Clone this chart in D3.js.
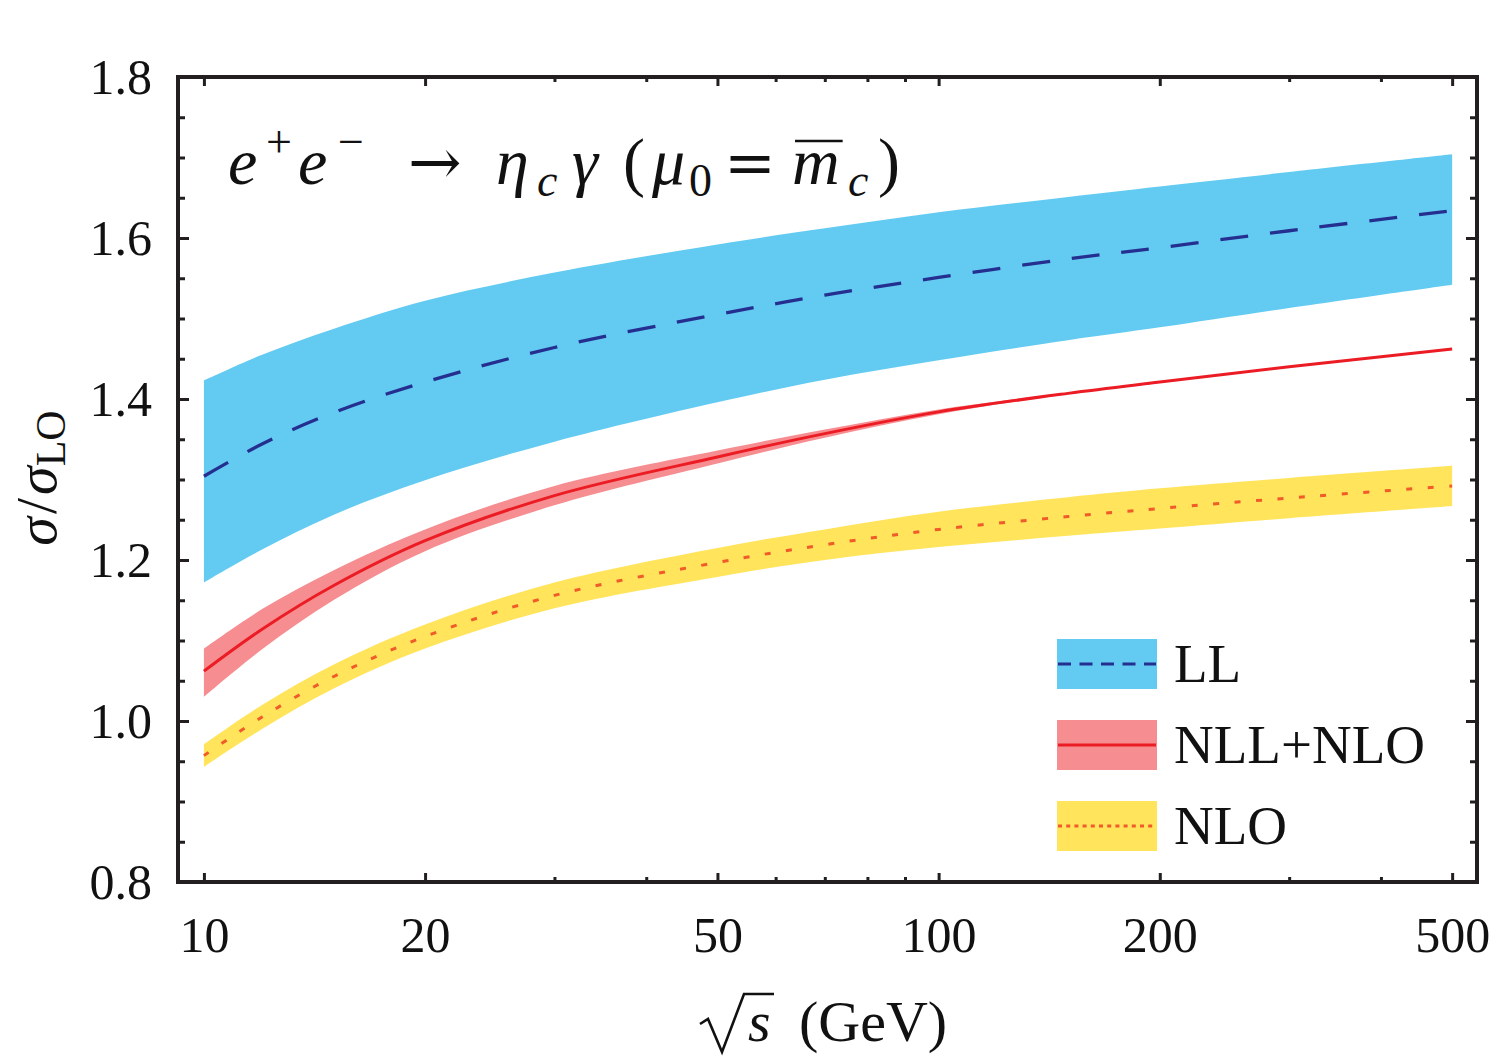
<!DOCTYPE html>
<html>
<head>
<meta charset="utf-8">
<script src="https://cdn.jsdelivr.net/npm/d3@7"></script>
<style>
  html, body { margin: 0; padding: 0; background: #fff; }
  svg text { font-family: "Liberation Serif", "Times New Roman", serif; fill: #111; }
</style>
</head>
<body>
<svg id="chart" width="1494" height="1059"></svg>
<script>
"use strict";

// sqrt(s) in GeV
const energies = [10, 12, 15, 20, 30, 50, 70, 100, 150, 200, 300, 500];

// LL band (dashed central line)
const llCentral = [1.304, 1.344, 1.383, 1.421, 1.464, 1.505, 1.529, 1.551, 1.574, 1.588, 1.609, 1.634];
const llUpper   = [1.423, 1.455, 1.487, 1.522, 1.557, 1.592, 1.612, 1.632, 1.651, 1.664, 1.682, 1.704];
const llLower   = [1.172, 1.213, 1.256, 1.299, 1.347, 1.396, 1.424, 1.448, 1.473, 1.489, 1.513, 1.542];

// NLL+NLO band (solid central line)
const nllCentral = [1.062, 1.114, 1.168, 1.224, 1.280, 1.328, 1.357, 1.384, 1.407, 1.421, 1.440, 1.462];
const nllUpper   = [1.090, 1.139, 1.187, 1.238, 1.292, 1.336, 1.362, 1.387, 1.408, 1.422, 1.440, 1.462];
const nllLower   = [1.030, 1.089, 1.150, 1.211, 1.268, 1.320, 1.352, 1.381, 1.406, 1.420, 1.440, 1.462];

// NLO band (dotted central line)
const nloCentral = [0.957, 1.005, 1.055, 1.105, 1.156, 1.197, 1.219, 1.238, 1.254, 1.264, 1.277, 1.292];
const nloUpper   = [0.971, 1.020, 1.070, 1.120, 1.172, 1.215, 1.238, 1.260, 1.278, 1.289, 1.302, 1.317];
const nloLower   = [0.943, 0.990, 1.040, 1.090, 1.140, 1.179, 1.200, 1.216, 1.230, 1.239, 1.252, 1.267];

const xMajorTicks = [10, 20, 50, 100, 200, 500];
const xMinorTicks = [30, 40, 60, 70, 80, 90, 300, 400];
const yMajorTicks = [0.8, 1.0, 1.2, 1.4, 1.6, 1.8];
const yMinorTicks = [0.85, 0.9, 0.95, 1.05, 1.1, 1.15, 1.25, 1.3, 1.35, 1.45, 1.5, 1.55, 1.65, 1.7, 1.75];

const legendItems = [
  { label: 'LL', fill: '#63cbf2', stroke: '#252f8f', width: 3.2, dash: '13,8.5' },
  { label: 'NLL+NLO', fill: '#f68e91', stroke: '#ec1c24', width: 3, dash: null },
  { label: 'NLO', fill: '#ffe45c', stroke: '#f15a29', width: 3, dash: '4,4.2' }
];

const margin = { left: 178, top: 77 };
const plotW = 1299;
const plotH = 805;

const svg = d3.select('#chart');
const g = svg.append('g').attr('transform', `translate(${margin.left},${margin.top})`);

const x = d3.scaleLog().domain([9.22, 540.5]).range([0, plotW]);
const y = d3.scaleLinear().domain([0.8, 1.8]).range([plotH, 0]);

const idx = d3.range(energies.length);
const curve = d3.curveCatmullRom.alpha(0.5);

function band(upper, lower) {
  return d3.area()
    .x((i) => x(energies[i]))
    .y0((i) => y(lower[i]))
    .y1((i) => y(upper[i]))
    .curve(curve)(idx);
}

function line(values) {
  return d3.line()
    .x((i) => x(energies[i]))
    .y((i) => y(values[i]))
    .curve(curve)(idx);
}

// bands
g.append('path').attr('d', band(llUpper, llLower)).attr('fill', '#63cbf2');
g.append('path').attr('d', band(nllUpper, nllLower)).attr('fill', '#f68e91');
g.append('path').attr('d', band(nloUpper, nloLower)).attr('fill', '#ffe45c');

// central lines
g.append('path').attr('d', line(llCentral))
  .attr('fill', 'none').attr('stroke', '#252f8f').attr('stroke-width', 3.3)
  .attr('stroke-dasharray', '28,22');
g.append('path').attr('d', line(nllCentral))
  .attr('fill', 'none').attr('stroke', '#ec1c24').attr('stroke-width', 3);
g.append('path').attr('d', line(nloCentral))
  .attr('fill', 'none').attr('stroke', '#f15a29').attr('stroke-width', 3)
  .attr('stroke-dasharray', '6,15.5');

// axes, ticks pointing inward on all four sides
function styleAxis(sel) {
  sel.select('.domain').remove();
  sel.selectAll('.tick line').attr('stroke', '#231f20').attr('stroke-width', 3);
  sel.selectAll('.tick text').attr('font-size', 50).attr('fill', '#111')
    .attr('font-family', '"Liberation Serif", "Times New Roman", serif');
}

g.append('g').attr('transform', `translate(0,${plotH})`)
  .call(d3.axisBottom(x).tickValues(xMajorTicks).tickFormat(d3.format('d')).tickSize(-9).tickPadding(34))
  .call(styleAxis);
g.append('g').attr('transform', `translate(0,${plotH})`)
  .call(d3.axisBottom(x).tickValues(xMinorTicks).tickFormat('').tickSize(-5))
  .call(styleAxis);
g.append('g')
  .call(d3.axisTop(x).tickValues(xMajorTicks).tickFormat('').tickSize(-9))
  .call(styleAxis);
g.append('g')
  .call(d3.axisTop(x).tickValues(xMinorTicks).tickFormat('').tickSize(-5))
  .call(styleAxis);

g.append('g')
  .call(d3.axisLeft(y).tickValues(yMajorTicks).tickFormat(d3.format('.1f')).tickSize(-11).tickPadding(26))
  .call(styleAxis);
g.append('g')
  .call(d3.axisLeft(y).tickValues(yMinorTicks).tickFormat('').tickSize(-7))
  .call(styleAxis);
g.append('g').attr('transform', `translate(${plotW},0)`)
  .call(d3.axisRight(y).tickValues(yMajorTicks).tickFormat('').tickSize(-11))
  .call(styleAxis);
g.append('g').attr('transform', `translate(${plotW},0)`)
  .call(d3.axisRight(y).tickValues(yMinorTicks).tickFormat('').tickSize(-7))
  .call(styleAxis);

// frame
g.append('rect')
  .attr('width', plotW).attr('height', plotH)
  .attr('fill', 'none').attr('stroke', '#231f20').attr('stroke-width', 4);

// process label, pieces placed one by one to get the wide math spacing
const titleY = 107;
const title = g.append('text').attr('y', titleY).attr('font-size', 66);
const titleParts = [
  { t: 'e', italic: true, at: 50 },
  { t: '+', size: 46, dy: -27, at: 88 },
  { t: 'e', italic: true, dy: 27, at: 120 },
  { t: '\u2212', size: 46, dy: -27, at: 160 },
  { t: '\u2192', dy: 27, at: 230, math: true, size: 64 },
  { t: '\u03b7', italic: true, at: 318 },
  { t: 'c', italic: true, size: 46, dy: 12, at: 359 },
  { t: '\u03b3', italic: true, dy: -12, at: 394 },
  { t: '(', at: 445 },
  { t: '\u03bc', italic: true, at: 474 },
  { t: '0', size: 46, dy: 12, at: 511 },
  { t: '=', dy: -12, at: 546, math: true, size: 62 },
  { t: 'm', italic: true, bar: true, at: 614 },
  { t: 'c', italic: true, size: 46, dy: 12, at: 670 },
  { t: ')', dy: -12, at: 700 }
];
let charCount = 0;
let barIndex = -1;
titleParts.forEach((p) => {
  const ts = title.append('tspan').attr('x', p.at).text(p.t);
  if (p.italic) ts.attr('font-style', 'italic');
  if (p.size) ts.attr('font-size', p.size);
  if (p.dy) ts.attr('dy', p.dy);
  if (p.math) ts.attr('font-family', '"DejaVu Serif", serif');
  if (p.bar) barIndex = charCount;
  charCount += p.t.length;
});
const mBox = title.node().getExtentOfChar(barIndex);
g.append('line')
  .attr('x1', mBox.x + 3).attr('x2', mBox.x + mBox.width + 3)
  .attr('y1', titleY - 43).attr('y2', titleY - 43)
  .attr('stroke', '#111').attr('stroke-width', 2.6);

// legend
const legend = g.append('g').attr('transform', `translate(${1057 - margin.left},${639 - margin.top})`);
legendItems.forEach((d, i) => {
  const row = legend.append('g').attr('transform', `translate(0,${i * 81})`);
  row.append('rect').attr('width', 100).attr('height', 50).attr('fill', d.fill);
  row.append('line')
    .attr('x1', 1).attr('x2', 99).attr('y1', 25).attr('y2', 25)
    .attr('stroke', d.stroke).attr('stroke-width', d.width)
    .attr('stroke-dasharray', d.dash);
  row.append('text')
    .attr('x', 117).attr('y', 43)
    .attr('font-size', 55)
    .text(d.label);
});

// x axis title: radical drawn as a path, then s and (GeV)
svg.append('path')
  .attr('d', 'M700,1024 L708,1019 L722,1052 L744,994 L774,994')
  .attr('fill', 'none').attr('stroke', '#111').attr('stroke-width', 2.6)
  .attr('stroke-linejoin', 'miter');
const xTitle = svg.append('text').attr('y', 1041).attr('font-size', 58);
xTitle.append('tspan').attr('x', 748).attr('font-style', 'italic').text('s');
xTitle.append('tspan').attr('x', 799).text('(GeV)');

// y axis title
const yTitle = svg.append('text')
  .attr('transform', 'translate(56,478) rotate(-90)')
  .attr('font-size', 58)
  .attr('text-anchor', 'middle');
yTitle.append('tspan').attr('font-style', 'italic').text('\u03c3');
yTitle.append('tspan').attr('dx', 3).text('/');
yTitle.append('tspan').attr('dx', 3).attr('font-style', 'italic').text('\u03c3');
yTitle.append('tspan').attr('font-size', 42).attr('dy', 9).text('LO');
</script>
</body>
</html>
